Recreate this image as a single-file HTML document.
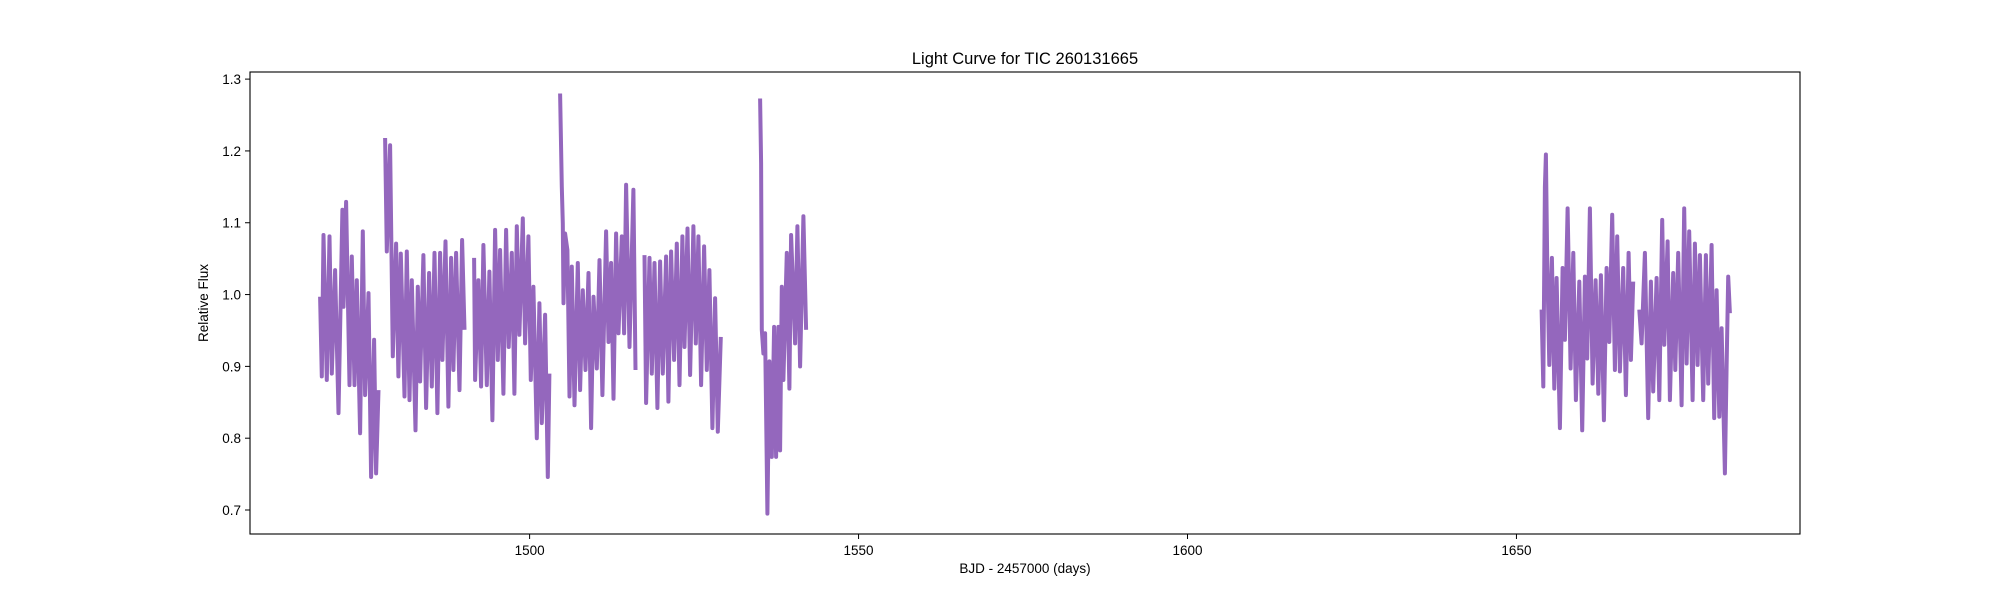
<!DOCTYPE html>
<html><head><meta charset="utf-8"><style>
html,body{margin:0;padding:0;background:#fff;}
svg text{font-family:"Liberation Sans","DejaVu Sans",sans-serif;fill:#000;}
</style></head><body>
<svg id="chart" width="2000" height="600" viewBox="0 0 2000 600" xmlns="http://www.w3.org/2000/svg">
<rect width="2000" height="600" fill="#fff"/>
<text x="1025" y="64" font-size="16.5" text-anchor="middle">Light Curve for TIC 260131665</text>
<g id="series"></g>
<g id="axes"></g>
<rect x="250" y="72" width="1550" height="462" fill="none" stroke="#000" stroke-width="1.1"/>
<text x="1025" y="573" font-size="13.5" text-anchor="middle">BJD - 2457000 (days)</text>
<text x="0" y="0" font-size="13.5" text-anchor="middle" transform="translate(208,303) rotate(-90)">Relative Flux</text>
</svg>
<script>
const xTicks=[1500,1550,1600,1650];
const yTicks=[0.7,0.8,0.9,1.0,1.1,1.2,1.3];
const times=[1468.16,1468.41,1468.67,1469.17,1469.58,1469.93,1470.44,1470.95,1471.55,1471.71,1472.11,1472.62,1472.97,1473.38,1473.73,1474.24,1474.64,1475.00,1475.51,1475.91,1476.37,1476.67,1477.03,
1478.04,1478.29,1478.80,1479.20,1479.71,1480.06,1480.42,1480.98,1481.33,1481.74,1482.09,1482.65,1483.00,1483.36,1483.86,1484.27,1484.73,1485.13,1485.54,1485.99,1486.40,1486.75,1487.21,1487.66,1488.07,1488.42,1488.83,1489.34,1489.74,1490.10,
1491.56,1491.72,1492.22,1492.63,1492.98,1493.49,1493.89,1494.35,1494.76,1495.16,1495.52,1496.02,1496.43,1496.83,1497.29,1497.69,1498.05,1498.45,1498.96,1499.31,1499.82,1500.18,1500.58,1501.09,1501.49,1501.85,1502.35,1502.76,1503.01,
1504.64,1504.89,1505.05,1505.15,1505.40,1505.75,1506.06,1506.41,1506.82,1507.32,1507.68,1508.08,1508.49,1508.95,1509.35,1509.71,1510.21,1510.62,1511.07,1511.63,1511.99,1512.39,1512.75,1513.15,1513.51,1514.01,1514.37,1514.67,1515.18,1515.78,1516.09,
1517.46,1517.71,1518.22,1518.57,1518.98,1519.43,1519.84,1520.24,1520.75,1521.10,1521.51,1521.96,1522.37,1522.78,1523.23,1523.54,1524.00,1524.40,1524.90,1525.26,1525.66,1526.07,1526.52,1526.93,1527.33,1527.79,1528.20,1528.60,1529.06,
1535.03,1535.19,1535.29,1535.54,1535.80,1536.15,1536.45,1536.81,1537.16,1537.47,1537.82,1538.08,1538.33,1538.58,1539.09,1539.49,1539.75,1540.35,1540.71,1541.11,1541.62,1542.03,
1653.82,1654.08,1654.33,1654.48,1654.68,1654.99,1655.39,1655.75,1656.10,1656.61,1657.01,1657.37,1657.77,1658.23,1658.64,1659.04,1659.55,1660.00,1660.41,1660.76,1661.17,1661.57,1662.03,1662.44,1662.84,1663.30,1663.70,1664.11,1664.56,1664.97,1665.32,1665.73,1666.23,1666.64,1667.04,1667.40,1667.75,
1668.67,1669.02,1669.53,1670.03,1670.44,1670.79,1671.30,1671.71,1672.16,1672.47,1672.97,1673.33,1673.83,1674.14,1674.59,1675.10,1675.50,1675.86,1676.26,1676.77,1677.13,1677.53,1677.89,1678.39,1678.80,1679.15,1679.66,1680.06,1680.42,1680.83,1681.18,1681.69,1681.94,1682.19,1682.45];
const flux=[0.997,0.886,1.083,0.881,1.081,0.890,1.034,0.835,1.118,0.983,1.129,0.874,1.053,0.874,1.020,0.807,1.088,0.860,1.002,0.746,0.937,0.751,0.867,
1.218,1.060,1.208,0.914,1.071,0.886,1.057,0.858,1.060,0.853,1.020,0.811,1.011,0.879,1.055,0.842,1.030,0.872,1.058,0.835,1.058,0.909,1.074,0.844,1.051,0.895,1.058,0.867,1.076,0.951,
1.051,0.881,1.020,0.872,1.069,0.874,1.032,0.825,1.090,0.909,1.062,0.862,1.090,0.927,1.058,0.862,1.095,0.944,1.106,0.932,1.081,0.881,1.011,0.800,0.988,0.821,0.972,0.746,0.890,
1.280,1.150,1.099,0.988,1.085,1.062,0.858,1.039,0.846,1.044,0.867,1.006,0.895,1.030,0.814,0.997,0.897,1.048,0.860,1.088,0.934,1.044,0.855,1.085,0.946,1.081,0.946,1.153,0.927,1.146,0.895,
1.055,0.849,1.051,0.890,1.044,0.842,1.046,0.890,1.053,0.851,1.060,0.909,1.071,0.874,1.081,0.927,1.092,0.888,1.095,0.932,1.081,0.874,1.067,0.895,1.034,0.814,0.995,0.809,0.941,
1.273,1.183,0.951,0.918,0.946,0.695,0.907,0.774,0.955,0.774,0.955,0.783,1.011,0.881,1.058,0.869,1.083,0.932,1.095,0.900,1.109,0.951,
0.979,0.872,1.150,1.195,1.048,0.902,1.051,0.869,1.023,0.814,1.037,0.937,1.120,0.897,1.058,0.853,1.018,0.811,1.025,0.911,1.120,0.876,1.020,0.862,1.027,0.825,1.037,0.934,1.111,0.895,1.081,0.893,1.037,0.860,1.058,0.909,1.018,
0.979,0.932,1.058,0.828,1.018,0.865,1.023,0.853,1.104,0.930,1.074,0.853,1.030,0.895,1.058,0.846,1.120,0.904,1.088,0.853,1.071,0.902,1.055,0.853,1.055,0.876,1.069,0.828,1.006,0.830,0.953,0.751,0.900,1.025,0.974];
const X0=250,X1=1800,Y0=534,Y1=72,xMin=1457.5,xMax=1693.1,yMin=0.6666,yMax=1.3099;
function xs(t){return X0+(t-xMin)/(xMax-xMin)*(X1-X0);}
function ys(f){return Y0-(f-yMin)/(yMax-yMin)*(Y0-Y1);}
const NS="http://www.w3.org/2000/svg";
const axes=document.getElementById('axes');
xTicks.forEach(v=>{
  const l=document.createElementNS(NS,'line');
  l.setAttribute('x1',xs(v));l.setAttribute('x2',xs(v));l.setAttribute('y1',534);l.setAttribute('y2',539);
  l.setAttribute('stroke','#000');l.setAttribute('stroke-width','1');
  
  
  axes.appendChild(l);
  const t=document.createElementNS(NS,'text');
  t.setAttribute('x',xs(v));t.setAttribute('y',555);t.setAttribute('font-size','13.5');t.setAttribute('text-anchor','middle');
  t.textContent=String(v);
  
  
  axes.appendChild(t);
});
yTicks.forEach(v=>{
  const l=document.createElementNS(NS,'line');
  l.setAttribute('x1',245);l.setAttribute('x2',250);l.setAttribute('y1',ys(v));l.setAttribute('y2',ys(v));
  l.setAttribute('stroke','#000');l.setAttribute('stroke-width','1');
  
  
  axes.appendChild(l);
  const t=document.createElementNS(NS,'text');
  t.setAttribute('x',241);t.setAttribute('y',ys(v)+5);t.setAttribute('font-size','13.5');t.setAttribute('text-anchor','end');
  t.textContent=v.toFixed(1);
  
  
  axes.appendChild(t);
});
const g=document.getElementById('series');
let seg=[];
function flush(){
  if(seg.length<2){seg=[];return;}
  const p=document.createElementNS(NS,'polyline');
  p.setAttribute('points',seg.join(' '));
  p.setAttribute('fill','none');p.setAttribute('stroke','#9467bd');p.setAttribute('stroke-width','4');
  p.setAttribute('stroke-linejoin','round');
  
  
  g.appendChild(p);seg=[];
}
for(let i=0;i<times.length;i++){
  if(i>0&&times[i]-times[i-1]>0.9)flush();
  seg.push(xs(times[i]).toFixed(1)+','+ys(flux[i]).toFixed(1));
}
flush();
</script>
</body></html>
